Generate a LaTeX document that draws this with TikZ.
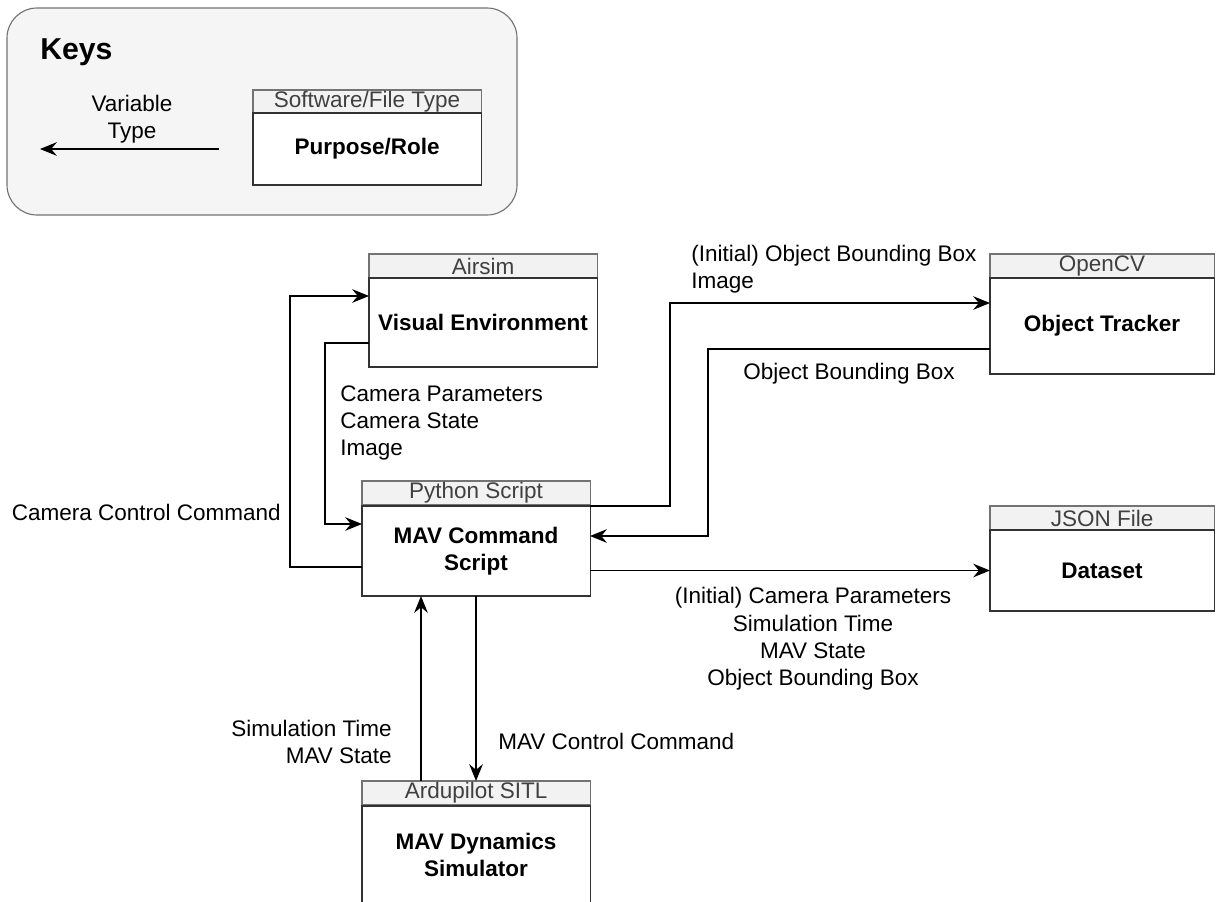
\documentclass[tikz,border=0pt]{standalone}
\usepackage{fontspec}
\setmainfont{Liberation Sans}
\usetikzlibrary{arrows.meta,calc,positioning}
\newcommand{\diagfont}{\fontsize{16}{19.5}\selectfont}

\begin{document}
\begin{tikzpicture}[x=0.025cm,y=-0.025cm,
    hdr/.style={draw=black!55,fill=black!5,text=black!75,font=\diagfont,anchor=north west,
      minimum height=0.6cm,inner sep=0pt,outer sep=0pt,line width=0.8pt},
    role/.style={draw=black!80,fill=white,font=\diagfont\bfseries,anchor=north west,
      align=center,inner sep=0pt,outer sep=0pt,line width=0.8pt},
    arr/.style={-{Stealth[length=4.2mm,width=3.4mm,inset=1.4mm]},line width=0.8pt},
    lbl/.style={font=\diagfont,inner sep=0pt}]
    \useasboundingbox (0,0) rectangle (1216,901);

    % keys
    \draw[draw=black!55,fill=black!4,rounded corners=0.75cm,line width=0.8pt] (7,8) rectangle (517,215);
    \node[lbl,anchor=west,font=\fontsize{21.5}{24}\selectfont\bfseries] (keys) at (40,52) {Keys};
    \node[hdr,minimum width=5.7cm] (kh) at (253,90) {Software/File Type};
    \node[role,minimum width=5.7cm,minimum height=1.8cm] (kb) at (253,113) {Purpose/Role};
    \coordinate (kstart) at (219,149);
    \coordinate (kend) at (40,149);
    \draw[arr] (kstart) -- (kend);
    \node[lbl,align=center] (kvar) at (132,119) {Variable\\Type};

    % boxes
    \node[hdr,minimum width=5.7cm] (airh) at (369,254) {Airsim};
    \node[role,minimum width=5.7cm,minimum height=2.225cm] (air) at (369,278) {Visual Environment};
    \node[hdr,minimum width=5.7cm] (pyh) at (362,481) {Python Script};
    \node[role,minimum width=5.7cm,minimum height=2.25cm] (py) at (362,506) {MAV Command\\Script};
    \node[hdr,minimum width=5.6cm] (cvh) at (990,254) {OpenCV};
    \node[role,minimum width=5.6cm,minimum height=2.4cm] (cv) at (990,278) {Object Tracker};
    \node[hdr,minimum width=5.6cm] (jsh) at (990,506) {JSON File};
    \node[role,minimum width=5.6cm,minimum height=2.025cm] (js) at (990,530) {Dataset};
    \node[hdr,minimum width=5.7cm] (aph) at (362,781) {Ardupilot SITL};
    \node[role,minimum width=5.7cm,minimum height=2.45cm] (ap) at (362,806) {MAV Dynamics\\Simulator};

    % connectors
    \draw[arr] (py.west |- 0,567) -| (290,296) -- (air.west |- 0,296);
    \draw[arr] (air.west |- 0,343) -| (325,524) -- (py.west |- 0,524);
    \draw[arr] (py.north east) -| (670,303) -- (cv.west |- 0,303);
    \draw[arr] (cv.west |- 0,349) -| (708,536) -- (py.east |- 0,536);
    \draw[arr] (py.east |- js.west) -- (js.west);
    \draw[arr] (py.south) -- (aph.north);
    \draw[arr] (aph.north -| 421,0) -- (py.south -| 421,0);

    % labels
    \node[lbl,anchor=east] (lcam) at (281,512) {Camera Control Command};
    \node[lbl,anchor=west,align=left] (lenv) at (340,423) {Camera Parameters\\Camera State\\Image};
    \node[lbl,anchor=west,align=left] (ltrk) at (691,269) {(Initial) Object Bounding Box\\Image};
    \node[lbl,anchor=west] (lbox) at (743,374) {Object Bounding Box};
    \node[lbl,align=center] (ldat) at (813,639) {(Initial) Camera Parameters\\Simulation Time\\MAV State\\Object Bounding Box};
    \node[lbl,anchor=west] (lctl) at (498,741) {MAV Control Command};
    \node[lbl,anchor=east,align=right] (lsim) at (392,742) {Simulation Time\\MAV State};
\end{tikzpicture}
\end{document}
